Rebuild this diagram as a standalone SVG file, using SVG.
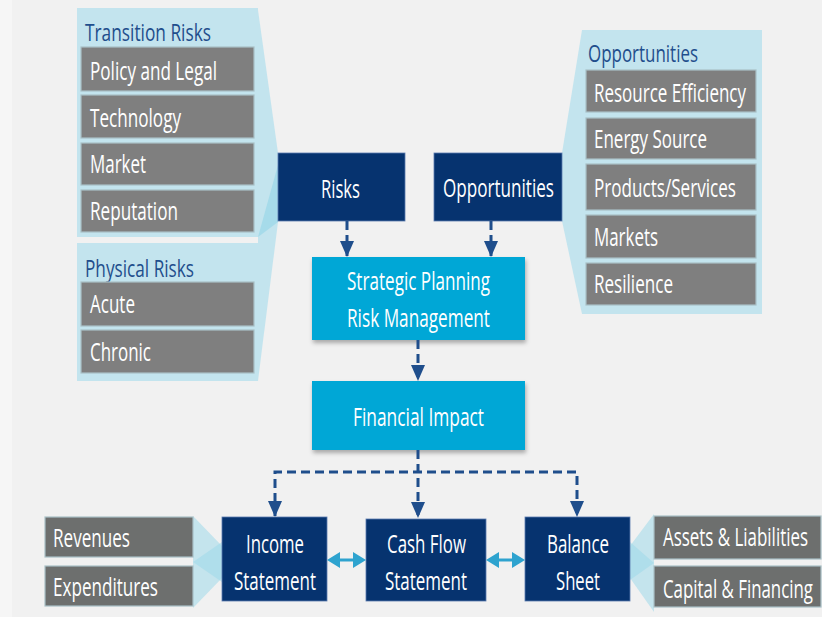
<svg xmlns="http://www.w3.org/2000/svg" width="822" height="617" viewBox="0 0 822 617">
<defs>
<style>
text{font-family:"Open Sans","Noto Sans","Liberation Sans",sans-serif;font-size:25px}
.w{fill:#ffffff}
.t{fill:#1f4e8c;font-size:24px}
.panel{fill:#c3e4ee}
.gray{fill:#7f7f7f;stroke:#a9c0c6;stroke-width:1.2}
.gray2{fill:#6d6f6e;stroke:#a9c0c6;stroke-width:1.2}
.navy{fill:#06336f;stroke:#5a7bb0;stroke-width:0.8}
.cyan{fill:#00a7d6}
.dash{fill:none;stroke:#1f4e8c;stroke-width:3;stroke-dasharray:9 5}
.fan{fill:#9fd8ea;opacity:0.55}
.dbl{stroke:#2ea3cf;stroke-width:3}
</style>
<marker id="ah" viewBox="0 0 16 14" refX="15" refY="7" markerWidth="16" markerHeight="14" markerUnits="userSpaceOnUse" orient="auto-start-reverse">
<path d="M0,0 L16,7 L0,14 Z" fill="#1f4e8c"/>
</marker>
<filter id="sh" x="-10%" y="-10%" width="120%" height="130%">
<feDropShadow dx="1" dy="3" stdDeviation="2" flood-color="#000" flood-opacity="0.3"/>
</filter>
</defs>
<rect x="0" y="0" width="822" height="617" fill="#f1f1f1"/>
<rect x="0" y="0" width="12" height="617" fill="#f6f6f6"/>

<g id="fans">
<polygon points="258,10 278,153 278,222 258,381" fill="#c3e4ee"/>
<polygon points="258,237 278,165 278,222" fill="#a6dbea"/>
<polygon points="562,153 582,30 582,314 562,221" fill="#c3e4ee"/>
<polygon class="fan" points="193,516 222,546 222,582 193,562"/>
<polygon class="fan" points="193,608 222,578 222,542 193,562"/>
<polygon class="fan" points="654,514 630,546 630,580 654,563"/>
<polygon class="fan" points="654,612 630,578 630,542 654,563"/>
</g>

<g id="transition-risks">
<rect class="panel" x="77" y="8" width="181" height="229"/>
<text class="t" x="85" y="41" textLength="126" lengthAdjust="spacingAndGlyphs">Transition Risks</text>
</g>
<g id="policy-legal"><rect class="gray" x="81" y="47" width="173" height="44"/><text class="w" x="90" y="80" textLength="127" lengthAdjust="spacingAndGlyphs">Policy and Legal</text></g>
<g id="technology"><rect class="gray" x="81" y="95" width="173" height="43"/><text class="w" x="90" y="127" textLength="91" lengthAdjust="spacingAndGlyphs">Technology</text></g>
<g id="market"><rect class="gray" x="81" y="143" width="173" height="42"/><text class="w" x="90" y="173" textLength="56" lengthAdjust="spacingAndGlyphs">Market</text></g>
<g id="reputation"><rect class="gray" x="81" y="190" width="173" height="42"/><text class="w" x="90" y="220" textLength="88" lengthAdjust="spacingAndGlyphs">Reputation</text></g>

<g id="physical-risks">
<rect class="panel" x="77" y="243" width="181" height="138"/>
<text class="t" x="85" y="277" textLength="109" lengthAdjust="spacingAndGlyphs">Physical Risks</text>
</g>
<g id="acute"><rect class="gray" x="81" y="282" width="173" height="44"/><text class="w" x="90" y="313" textLength="45" lengthAdjust="spacingAndGlyphs">Acute</text></g>
<g id="chronic"><rect class="gray" x="81" y="330" width="173" height="43"/><text class="w" x="90" y="361" textLength="61" lengthAdjust="spacingAndGlyphs">Chronic</text></g>

<g id="opportunities-panel">
<rect class="panel" x="582" y="30" width="180" height="284"/>
<text class="t" x="588" y="62" textLength="110" lengthAdjust="spacingAndGlyphs">Opportunities</text>
</g>
<g id="resource-efficiency"><rect class="gray" x="586" y="70" width="170" height="42"/><text class="w" x="594" y="102" textLength="152" lengthAdjust="spacingAndGlyphs">Resource Efficiency</text></g>
<g id="energy-source"><rect class="gray" x="586" y="118" width="170" height="41"/><text class="w" x="594" y="148" textLength="113" lengthAdjust="spacingAndGlyphs">Energy Source</text></g>
<g id="products-services"><rect class="gray" x="586" y="164" width="170" height="46"/><text class="w" x="594" y="197" textLength="142" lengthAdjust="spacingAndGlyphs">Products/Services</text></g>
<g id="markets"><rect class="gray" x="586" y="215" width="170" height="43"/><text class="w" x="594" y="246" textLength="64" lengthAdjust="spacingAndGlyphs">Markets</text></g>
<g id="resilience"><rect class="gray" x="586" y="263" width="170" height="42"/><text class="w" x="594" y="293" textLength="79" lengthAdjust="spacingAndGlyphs">Resilience</text></g>

<g id="risks"><rect class="navy" x="278" y="153" width="127" height="68"/><text class="w" x="321" y="198" textLength="39" lengthAdjust="spacingAndGlyphs">Risks</text></g>
<g id="opportunities"><rect class="navy" x="434" y="153" width="128" height="68"/><text class="w" x="443" y="197" textLength="111" lengthAdjust="spacingAndGlyphs">Opportunities</text></g>

<g id="strategic-planning"><rect class="cyan" filter="url(#sh)" x="312" y="257" width="213" height="83"/>
<text class="w" x="347" y="290" textLength="143" lengthAdjust="spacingAndGlyphs">Strategic Planning</text>
<text class="w" x="347" y="327" textLength="143" lengthAdjust="spacingAndGlyphs">Risk Management</text></g>
<g id="financial-impact"><rect class="cyan" filter="url(#sh)" x="312" y="381" width="213" height="69"/>
<text class="w" x="353" y="426" textLength="131" lengthAdjust="spacingAndGlyphs">Financial Impact</text></g>

<g id="income-statement"><rect class="navy" x="222" y="517" width="105" height="84"/>
<text class="w" x="246" y="553" textLength="58" lengthAdjust="spacingAndGlyphs">Income</text>
<text class="w" x="234" y="590" textLength="82" lengthAdjust="spacingAndGlyphs">Statement</text></g>
<g id="cash-flow-statement"><rect class="navy" x="366" y="519" width="120" height="82"/>
<text class="w" x="387" y="553" textLength="79" lengthAdjust="spacingAndGlyphs">Cash Flow</text>
<text class="w" x="385" y="590" textLength="82" lengthAdjust="spacingAndGlyphs">Statement</text></g>
<g id="balance-sheet"><rect class="navy" x="525" y="517" width="105" height="84"/>
<text class="w" x="547" y="553" textLength="62" lengthAdjust="spacingAndGlyphs">Balance</text>
<text class="w" x="556" y="590" textLength="44" lengthAdjust="spacingAndGlyphs">Sheet</text></g>

<g id="revenues"><rect class="gray2" x="45" y="517" width="148" height="40"/><text class="w" x="53" y="547" textLength="77" lengthAdjust="spacingAndGlyphs">Revenues</text></g>
<g id="expenditures"><rect class="gray2" x="45" y="566" width="148" height="40"/><text class="w" x="53" y="596" textLength="105" lengthAdjust="spacingAndGlyphs">Expenditures</text></g>
<g id="assets-liabilities"><rect class="gray2" x="654" y="516" width="167" height="43"/><text class="w" x="663" y="546" textLength="145" lengthAdjust="spacingAndGlyphs">Assets &amp; Liabilities</text></g>
<g id="capital-financing"><rect class="gray2" x="654" y="566" width="167" height="41"/><text class="w" x="663" y="598" textLength="150" lengthAdjust="spacingAndGlyphs">Capital &amp; Financing</text></g>

<g id="connectors">
<line class="dash" x1="347" y1="221" x2="347" y2="256" marker-end="url(#ah)"/>
<line class="dash" x1="491" y1="221" x2="491" y2="256" marker-end="url(#ah)"/>
<line class="dash" x1="418" y1="340" x2="418" y2="380" marker-end="url(#ah)"/>
<line class="dash" x1="418" y1="450" x2="418" y2="517" marker-end="url(#ah)"/>
<polyline class="dash" points="275,516 275,472 577,472 577,516" marker-start="url(#ah)" marker-end="url(#ah)"/>
<line class="dbl" x1="338" y1="560" x2="355" y2="560"/>
<polygon points="327,560 340,552 340,568" fill="#2ea3cf"/>
<polygon points="366,560 353,552 353,568" fill="#2ea3cf"/>
<line class="dbl" x1="497" y1="560" x2="514" y2="560"/>
<polygon points="486,560 499,552 499,568" fill="#2ea3cf"/>
<polygon points="525,560 512,552 512,568" fill="#2ea3cf"/>
</g>
</svg>
